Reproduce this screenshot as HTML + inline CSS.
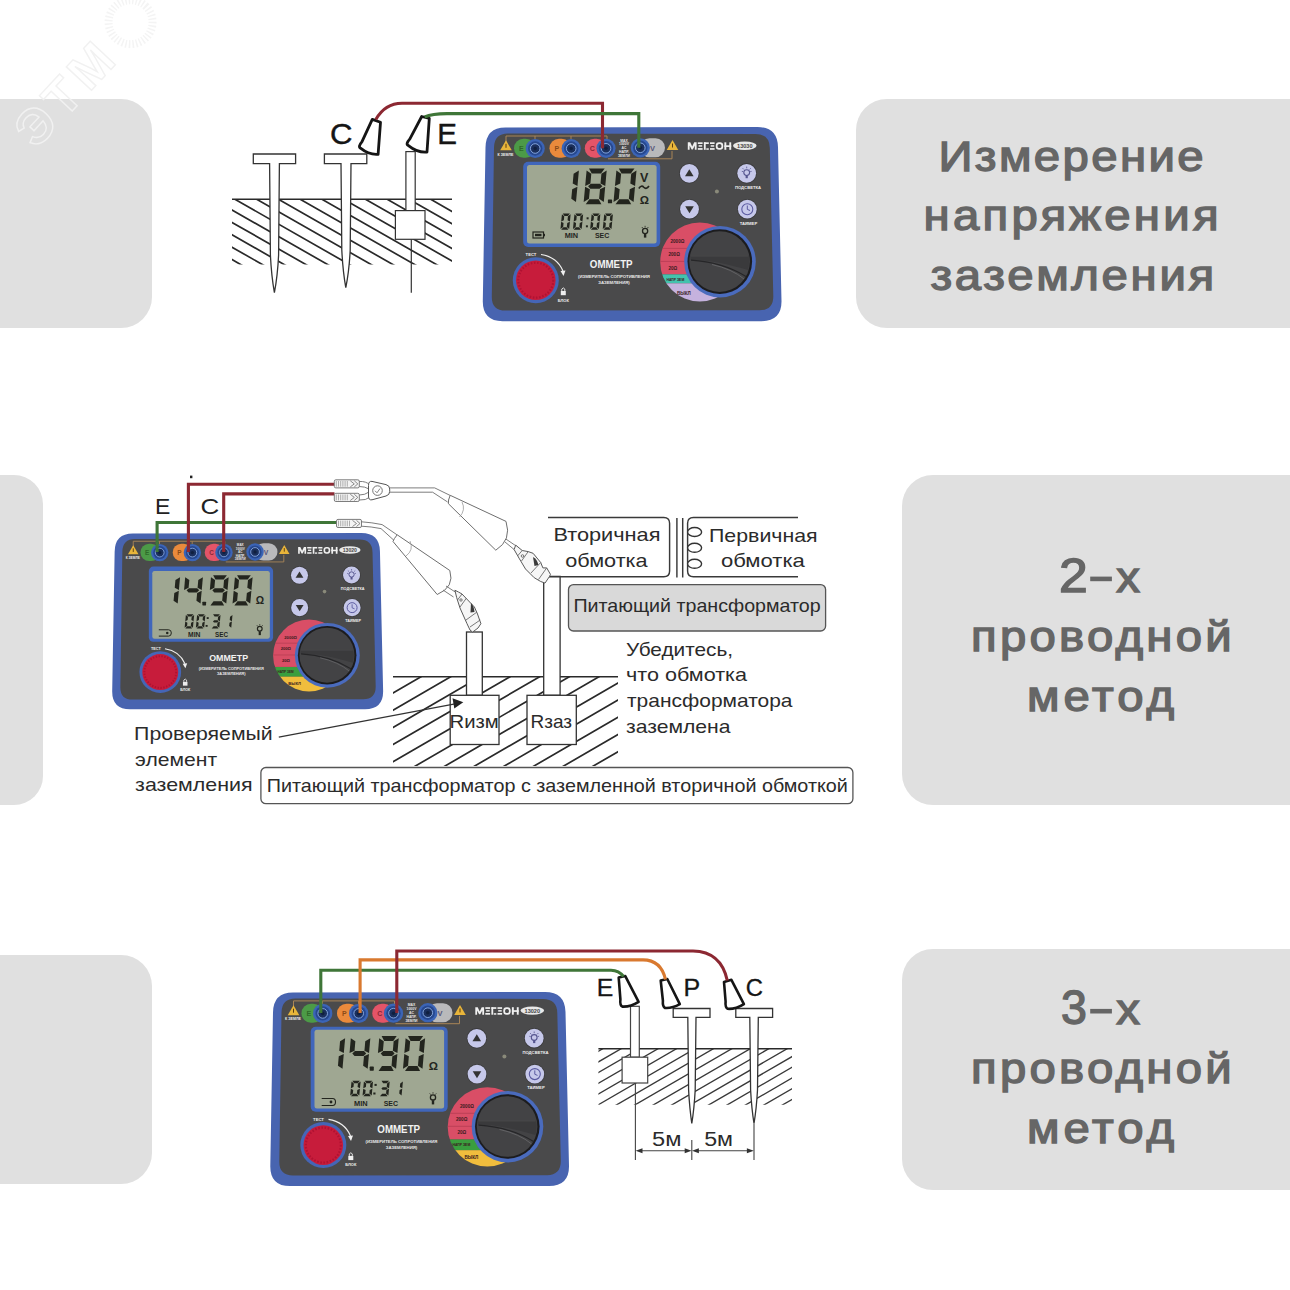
<!DOCTYPE html>
<html><head><meta charset="utf-8"><style>
html,body{margin:0;padding:0;background:#fff;width:1290px;height:1290px;overflow:hidden;}
svg{position:absolute;left:0;top:0;display:block;}
</style></head><body>
<svg width="1290" height="1290" viewBox="0 0 1290 1290">
<rect width="1290" height="1290" fill="#fff"/>

<rect x="-40.0" y="99.0" width="192.0" height="229.0" rx="31.0" fill="#e0e0e0"/>
<rect x="-40.0" y="475.0" width="83.0" height="330.0" rx="29.0" fill="#e0e0e0"/>
<rect x="-40.0" y="955.0" width="192.0" height="229.0" rx="31.0" fill="#e0e0e0"/>
<rect x="856.0" y="99.0" width="474.0" height="229.0" rx="31.0" fill="#e0e0e0"/>
<rect x="902.0" y="475.0" width="428.0" height="330.0" rx="31.0" fill="#e0e0e0"/>
<rect x="902.0" y="949.0" width="428.0" height="241.0" rx="31.0" fill="#e0e0e0"/>
<g transform="translate(36,150) rotate(-47)"><text x="0" y="0" font-size="50" fill="none" stroke="#f1f1f1" stroke-width="1.4" font-family="Liberation Sans" font-weight="bold" letter-spacing="6">ЭТМ</text><circle cx="158" cy="-18" r="22" fill="none" stroke="#f4f4f4" stroke-width="8" stroke-dasharray="1.5 2"/></g>
<clipPath id="h1"><rect x="232.0" y="199.3" width="220.0" height="65.1"/></clipPath>
<g clip-path="url(#h1)" stroke="#2a2a2a" stroke-width="1.70">
<path d="M230.0,47.66 L454.0,175.34 M230.0,60.06 L454.0,187.74 M230.0,72.46 L454.0,200.14 M230.0,84.86 L454.0,212.54 M230.0,97.26 L454.0,224.94 M230.0,109.66 L454.0,237.34 M230.0,122.06 L454.0,249.74 M230.0,134.46 L454.0,262.14 M230.0,146.86 L454.0,274.54 M230.0,159.26 L454.0,286.94 M230.0,171.66 L454.0,299.34 M230.0,184.06 L454.0,311.74 M230.0,196.46 L454.0,324.14 M230.0,208.86 L454.0,336.54 M230.0,221.26 L454.0,348.94 M230.0,233.66 L454.0,361.34 M230.0,246.06 L454.0,373.74 M230.0,258.46 L454.0,386.14 M230.0,270.86 L454.0,398.54 M230.0,283.26 L454.0,410.94 M230.0,295.66 L454.0,423.34"/>
</g>
<path d="M232,199.3 L452,199.3" stroke="#2a2a2a" stroke-width="1.6"/>
<path d="M253.3,154.0 L295.6,154.0 L295.6,163.7 L279.4,163.7 L278.6,255.0 Q277.6,275.7 274.4,292.7 Q271.4,275.7 270.4,255.0 L269.6,163.7 L253.3,163.7 Z" fill="#fff" stroke="#333" stroke-width="1.30" stroke-linejoin="miter"/>
<path d="M324.4,154.0 L366.8,154.0 L366.8,163.7 L351.0,163.7 L350.2,250.0 Q349.2,270.7 345.8,287.7 Q342.8,270.7 341.8,250.0 L341.0,163.7 L324.4,163.7 Z" fill="#fff" stroke="#333" stroke-width="1.30" stroke-linejoin="miter"/>
<rect x="405.9" y="151.6" width="9.3" height="59" fill="#fff" stroke="#333" stroke-width="1.2"/>
<rect x="395.4" y="210.6" width="29.6" height="28.7" fill="#fff" stroke="#333" stroke-width="1.2"/>
<path d="M411.3,239.3 L411.3,292.7" stroke="#333" stroke-width="1.2"/>
<path d="M372.3,119.4 L380.5,122.3 L378.1,154.3 Q369.1,155.1 360.5,148.2 Q357.8,146.9 362.0,141.6 L372.3,119.4 Z" fill="#fff" stroke="#151515" stroke-width="2.8" stroke-linejoin="round"/>
<path d="M421.7,116.5 L429.3,118.3 L427.0,152.0 Q417.3,152.8 408.1,145.3 Q405.4,144.0 409.9,138.8 L421.7,116.5 Z" fill="#fff" stroke="#151515" stroke-width="2.8" stroke-linejoin="round"/>
<clipPath id="h2"><rect x="393.0" y="676.7" width="225.0" height="89.3"/></clipPath>
<g clip-path="url(#h2)" stroke="#2a2a2a" stroke-width="1.70">
<path d="M391.0,642.56 L620.0,509.74 M391.0,659.76 L620.0,526.94 M391.0,676.96 L620.0,544.14 M391.0,694.16 L620.0,561.34 M391.0,711.36 L620.0,578.54 M391.0,728.56 L620.0,595.74 M391.0,745.76 L620.0,612.94 M391.0,762.96 L620.0,630.14 M391.0,780.16 L620.0,647.34 M391.0,797.36 L620.0,664.54 M391.0,814.56 L620.0,681.74 M391.0,831.76 L620.0,698.94 M391.0,848.96 L620.0,716.14 M391.0,866.16 L620.0,733.34 M391.0,883.36 L620.0,750.54 M391.0,900.56 L620.0,767.74 M391.0,917.76 L620.0,784.94 M391.0,934.96 L620.0,802.14"/>
</g>
<path d="M393,676.7 L618,676.7" stroke="#2a2a2a" stroke-width="1.6"/>
<rect x="466.5" y="632" width="15.8" height="63.3" fill="#fff" stroke="#333" stroke-width="1.3"/>
<rect x="450.2" y="695.3" width="48.8" height="49.2" fill="#fff" stroke="#333" stroke-width="1.3"/>
<rect x="543.7" y="576.4" width="16.4" height="118.9" fill="#fff" stroke="#333" stroke-width="1.3"/>
<rect x="527" y="695.3" width="49.3" height="49.2" fill="#fff" stroke="#333" stroke-width="1.3"/>
<path d="M548,517.4 L663.8,517.4 Q669.6,517.4 669.6,523.2 L669.6,571 Q669.6,576.8 663.8,576.8 L549,576.8" fill="none" stroke="#3a3a3a" stroke-width="1.45"/>
<path d="M676.9,518 L676.9,577.4 M682.7,518 L682.7,577.4" stroke="#3a3a3a" stroke-width="1.45"/>
<path d="M798,517.4 L693.4,517.4 Q687.6,517.4 687.6,523.2 L687.6,571 Q687.6,576.8 693.4,576.8 L798,576.8" fill="none" stroke="#3a3a3a" stroke-width="1.45"/>
<ellipse cx="694.6" cy="532.0" rx="7" ry="4.5" fill="#fff" stroke="#333" stroke-width="1.4"/>
<ellipse cx="694.6" cy="547.8" rx="7" ry="4.5" fill="#fff" stroke="#333" stroke-width="1.4"/>
<ellipse cx="694.6" cy="563.8" rx="7" ry="4.5" fill="#fff" stroke="#333" stroke-width="1.4"/>
<rect x="568.5" y="584.6" width="257.1" height="46.4" rx="5" fill="#d9d9d9" stroke="#555" stroke-width="1.3"/>
<path d="M278.8,737.2 L455,703.8" stroke="#333" stroke-width="1.3"/><polygon points="463.3,702.3 452.5,698.3 454.3,708.6" fill="#222"/>
<rect x="260.9" y="767.5" width="592" height="36.2" rx="5" fill="#fff" stroke="#555" stroke-width="1.3"/>
<clipPath id="h3"><rect x="598.4" y="1048.8" width="193.6" height="55.9"/></clipPath>
<g clip-path="url(#h3)" stroke="#3a3a3a" stroke-width="1.35">
<path d="M596.4,1020.26 L794.0,905.65 M596.4,1030.96 L794.0,916.35 M596.4,1041.66 L794.0,927.05 M596.4,1052.36 L794.0,937.75 M596.4,1063.06 L794.0,948.45 M596.4,1073.76 L794.0,959.15 M596.4,1084.46 L794.0,969.85 M596.4,1095.16 L794.0,980.55 M596.4,1105.86 L794.0,991.25 M596.4,1116.56 L794.0,1001.95 M596.4,1127.26 L794.0,1012.65 M596.4,1137.96 L794.0,1023.35 M596.4,1148.66 L794.0,1034.05 M596.4,1159.36 L794.0,1044.75 M596.4,1170.06 L794.0,1055.45 M596.4,1180.76 L794.0,1066.15 M596.4,1191.46 L794.0,1076.85 M596.4,1202.16 L794.0,1087.55 M596.4,1212.86 L794.0,1098.25 M596.4,1223.56 L794.0,1108.95 M596.4,1234.26 L794.0,1119.65 M596.4,1244.96 L794.0,1130.35"/>
</g>
<path d="M598.4,1048.8 L792,1048.8" stroke="#2a2a2a" stroke-width="1.6"/>
<rect x="630.5" y="1006.3" width="8.8" height="50.9" fill="#fff" stroke="#444" stroke-width="1.2"/>
<rect x="622.1" y="1057.2" width="25.6" height="25.8" fill="#fff" stroke="#444" stroke-width="1.2"/>
<path d="M635.4,1083 L635.4,1160" stroke="#444" stroke-width="1.1"/>
<path d="M673.2,1008.5 L710.0,1008.5 L710.0,1017.3 L696.0,1017.3 L695.2,1090.0 Q694.2,1108.4 691.8,1123.5 Q689.6,1108.4 688.6,1090.0 L687.8,1017.3 L673.2,1017.3 Z" fill="#fff" stroke="#333" stroke-width="1.30" stroke-linejoin="miter"/>
<path d="M735.8,1008.5 L772.6,1008.5 L772.6,1017.3 L758.3,1017.3 L757.5,1090.0 Q756.5,1108.4 754.0,1123.5 Q751.6,1108.4 750.6,1090.0 L749.8,1017.3 L735.8,1017.3 Z" fill="#fff" stroke="#333" stroke-width="1.30" stroke-linejoin="miter"/>
<path d="M691.8,1140 L691.8,1160 M754,1123.5 L754,1160" stroke="#444" stroke-width="1.1"/>
<path d="M639,1150.8 L688,1150.8 M695.5,1150.8 L750.5,1150.8" stroke="#444" stroke-width="1.1"/>
<polygon points="635.6,1150.8 642.5,1148.3 642.5,1153.3" fill="#333"/><polygon points="691.6,1150.8 684.7,1148.3 684.7,1153.3" fill="#333"/>
<polygon points="692,1150.8 698.9,1148.3 698.9,1153.3" fill="#333"/><polygon points="753.8,1150.8 746.9,1148.3 746.9,1153.3" fill="#333"/>
<path d="M618.7,977.6 L625.3,976.1 L638.6,1001.9 Q630.2,1007.1 622.4,1006.6 Q619.7,1005.3 620.4,999.3 L618.7,977.6 Z" fill="#fff" stroke="#151515" stroke-width="2.6" stroke-linejoin="round"/>
<path d="M660.7,980.5 L667.3,979.0 L679.8,1004.1 Q672.2,1008.5 665.1,1008.0 Q662.4,1006.7 662.9,1000.7 L660.7,980.5 Z" fill="#fff" stroke="#151515" stroke-width="2.6" stroke-linejoin="round"/>
<path d="M724.0,982.0 L731.4,979.8 L743.9,1004.1 Q735.5,1009.3 727.7,1008.8 Q725.0,1007.5 725.6,1001.5 L724.0,982.0 Z" fill="#fff" stroke="#151515" stroke-width="2.6" stroke-linejoin="round"/>
<g id="dev1"><path d="M505.5,127.5 L757.5,127 Q777.5,127 778,147 L781.5,301 Q781.8,321 761.5,321.2 L502.5,321.2 Q482.5,321.2 482.8,301 L485.5,147.5 Q485.8,127.5 505.5,127.5 Z" fill="#4864b0"/>
<path d="M508,133.5 L755.5,134 Q769.5,134 769.8,148 L773.3,296 Q773.5,310 759.5,310.3 L505.5,310.6 Q491.5,310.6 491.8,296.6 L494,147.5 Q494.2,133.5 508,133.5 Z" fill="#4a4a4b"/>
<path d="M506,143 L506,136 L607,136 L607,140 M535,136 L535,139 M571,136 L571,139 M608,158.8 L672,158.8 L672,151" fill="none" stroke="#a88457" stroke-width="1"/>
<polygon points="506.0,140.3 511.8,150.3 500.2,150.3" fill="#e9b53a"/>
<rect x="505.5" y="143.8" width="1" height="4" fill="#5a3d10"/>
<polygon points="672.5,140.0 678.3,150.0 666.7,150.0" fill="#e9b53a"/>
<rect x="672.0" y="143.5" width="1" height="4" fill="#5a3d10"/>
<text x="505.5" y="155.5" font-size="3.6" fill="#eee" text-anchor="middle" font-family="Liberation Sans" font-weight="bold">К ЗЕМЛЕ</text>
<rect x="514.0" y="138.8" width="21.2" height="19" rx="9.5" fill="#4c9a47"/>
<text x="519.0" y="151" font-size="7" fill="#2f6a2a" font-family="Liberation Sans" font-weight="bold">E</text>
<rect x="549.5" y="138.8" width="21.7" height="19" rx="9.5" fill="#ea8a3c"/>
<text x="554.5" y="151" font-size="7" fill="#8a4a18" font-family="Liberation Sans" font-weight="bold">P</text>
<rect x="584.8" y="138.8" width="21.2" height="19" rx="9.5" fill="#e45468"/>
<text x="589.8" y="151" font-size="7" fill="#8a2838" font-family="Liberation Sans" font-weight="bold">C</text>
<rect x="640" y="138.3" width="25" height="19" rx="9.5" fill="#b9b9bb"/>
<text x="650" y="151" font-size="7.5" fill="#55557a" font-family="Liberation Sans" font-weight="bold">V</text>
<circle cx="535.2" cy="148.5" r="9.6" fill="#3b64b6"/>
<circle cx="535.2" cy="148.5" r="7.2" fill="#27488f"/>
<circle cx="535.2" cy="148.5" r="4.8" fill="#1b2f5c" stroke="#8fb0e8" stroke-width="0.9"/>
<circle cx="535.2" cy="148.5" r="1.8" fill="#102040"/>
<circle cx="571.2" cy="148.5" r="9.6" fill="#3b64b6"/>
<circle cx="571.2" cy="148.5" r="7.2" fill="#27488f"/>
<circle cx="571.2" cy="148.5" r="4.8" fill="#1b2f5c" stroke="#8fb0e8" stroke-width="0.9"/>
<circle cx="571.2" cy="148.5" r="1.8" fill="#102040"/>
<circle cx="606.0" cy="148.3" r="9.6" fill="#3b64b6"/>
<circle cx="606.0" cy="148.3" r="7.2" fill="#27488f"/>
<circle cx="606.0" cy="148.3" r="4.8" fill="#1b2f5c" stroke="#8fb0e8" stroke-width="0.9"/>
<circle cx="606.0" cy="148.3" r="1.8" fill="#102040"/>
<circle cx="640.3" cy="147.8" r="9.6" fill="#3b64b6"/>
<circle cx="640.3" cy="147.8" r="7.2" fill="#27488f"/>
<circle cx="640.3" cy="147.8" r="4.8" fill="#1b2f5c" stroke="#8fb0e8" stroke-width="0.9"/>
<circle cx="640.3" cy="147.8" r="1.8" fill="#102040"/>
<text x="624" y="141.5" font-size="3.4" fill="#e8e8e8" text-anchor="middle" font-family="Liberation Sans" font-weight="bold">MAX</text>
<text x="624" y="145.3" font-size="3.4" fill="#e8e8e8" text-anchor="middle" font-family="Liberation Sans" font-weight="bold">1000V</text>
<text x="624" y="149.1" font-size="3.4" fill="#e8e8e8" text-anchor="middle" font-family="Liberation Sans" font-weight="bold">AC</text>
<text x="624" y="152.9" font-size="3.4" fill="#e8e8e8" text-anchor="middle" font-family="Liberation Sans" font-weight="bold">НАПР.</text>
<text x="624" y="156.7" font-size="3.4" fill="#e8e8e8" text-anchor="middle" font-family="Liberation Sans" font-weight="bold">ЗЕМЛИ</text>
<g fill="#f0f0f0"><polygon points="687.8,149.8 687.8,142.3 690.2,142.3 692.2,146.6 694.2,142.3 696.6,142.3 696.6,149.8 694.8,149.8 694.8,145.6 692.8,149.4 691.6,149.4 689.6,145.6 689.6,149.8"/><rect x="697.8" y="142.3" width="4.8" height="1.7"/><rect x="698.6" y="145.2" width="3.6" height="1.5"/><rect x="697.8" y="148.1" width="4.8" height="1.7"/><rect x="703.9" y="142.3" width="4.9" height="1.7"/><rect x="703.9" y="142.3" width="1.8" height="7.5"/><rect x="706.3" y="148.3" width="2.5" height="1.5"/><rect x="710" y="142.3" width="4.6" height="1.7"/><rect x="710.7" y="145.2" width="3.5" height="1.5"/><rect x="710" y="148.1" width="4.6" height="1.7"/><rect x="715.8" y="142.3" width="7.4" height="7.5" rx="3.2"/><rect x="724.4" y="142.3" width="1.9" height="7.5"/><rect x="729.3" y="142.3" width="1.9" height="7.5"/><rect x="724.4" y="145.3" width="6.8" height="1.7"/></g>
<rect x="717.6" y="144" width="3.8" height="4.1" rx="1.6" fill="#4a4a4b"/>
<ellipse cx="744.8" cy="145.7" rx="11.8" ry="4.2" fill="#e8e8e8"/>
<text x="744.8" y="147.9" font-size="5.6" fill="#444" text-anchor="middle" font-family="Liberation Sans" font-weight="bold">13030</text>
<rect x="523.2" y="161.8" width="137" height="85.1" rx="5" fill="#4066bb"/>
<rect x="527" y="164.9" width="129.6" height="78.6" rx="2.5" fill="#9fa792"/>
<g fill="#23251e"><polygon points="578.89,170.60 577.48,185.90 572.71,183.40 573.60,173.80"/><polygon points="577.41,186.70 576.00,202.00 571.30,198.80 572.18,189.20"/></g>
<g fill="#23251e"><polygon points="588.99,168.40 604.69,168.40 601.03,173.40 591.73,173.40"/><polygon points="606.69,170.60 605.28,185.90 600.51,183.40 601.40,173.80"/><polygon points="605.21,186.70 603.80,202.00 599.10,198.80 599.98,189.20"/><polygon points="589.36,199.20 598.66,199.20 601.40,204.20 585.70,204.20"/><polygon points="585.11,186.70 589.88,189.20 589.00,198.80 583.70,202.00"/><polygon points="586.59,170.60 591.30,173.80 590.41,183.40 585.18,185.90"/><polygon points="588.05,186.30 590.78,183.80 600.08,183.80 602.35,186.30 599.62,188.80 590.32,188.80"/></g>
<g fill="#23251e"><polygon points="618.79,168.40 634.49,168.40 630.83,173.40 621.53,173.40"/><polygon points="636.49,170.60 635.08,185.90 630.31,183.40 631.20,173.80"/><polygon points="635.01,186.70 633.60,202.00 628.90,198.80 629.78,189.20"/><polygon points="619.16,199.20 628.46,199.20 631.20,204.20 615.50,204.20"/><polygon points="614.91,186.70 619.68,189.20 618.80,198.80 613.50,202.00"/><polygon points="616.39,170.60 621.10,173.80 620.21,183.40 614.98,185.90"/></g>
<rect x="607.9" y="199.5" width="4.2" height="3.8" rx="0.6" fill="#23251e"/>
<text x="640" y="182.3" font-size="12.5" fill="#23251e" font-family="Liberation Sans" font-weight="bold">V</text>
<path d="M638.8,188.5 Q641.5,184.5 643.8,187.3 Q646.3,190 649,186" fill="none" stroke="#23251e" stroke-width="1.6"/>
<text x="639.8" y="203.8" font-size="11.5" fill="#23251e" font-family="Liberation Sans" font-weight="bold">Ω</text>
<g fill="#23251e"><polygon points="562.80,213.50 569.90,213.50 567.75,216.00 564.45,216.00"/><polygon points="570.62,214.30 569.92,221.45 567.54,220.20 567.93,216.20"/><polygon points="569.88,221.85 569.18,229.00 566.86,227.10 567.26,223.10"/><polygon points="563.35,227.30 566.64,227.30 568.30,229.80 561.20,229.80"/><polygon points="561.18,221.85 563.56,223.10 563.16,227.10 560.48,229.00"/><polygon points="561.92,214.30 564.23,216.20 563.84,220.20 561.22,221.45"/></g>
<g fill="#23251e"><polygon points="575.30,213.50 582.40,213.50 580.25,216.00 576.95,216.00"/><polygon points="583.12,214.30 582.42,221.45 580.04,220.20 580.43,216.20"/><polygon points="582.38,221.85 581.68,229.00 579.36,227.10 579.76,223.10"/><polygon points="575.85,227.30 579.14,227.30 580.80,229.80 573.70,229.80"/><polygon points="573.68,221.85 576.06,223.10 575.66,227.10 572.98,229.00"/><polygon points="574.42,214.30 576.73,216.20 576.34,220.20 573.72,221.45"/></g>
<g fill="#23251e"><polygon points="592.50,213.50 599.60,213.50 597.45,216.00 594.15,216.00"/><polygon points="600.32,214.30 599.62,221.45 597.24,220.20 597.63,216.20"/><polygon points="599.58,221.85 598.88,229.00 596.56,227.10 596.96,223.10"/><polygon points="593.05,227.30 596.35,227.30 598.00,229.80 590.90,229.80"/><polygon points="590.88,221.85 593.26,223.10 592.86,227.10 590.18,229.00"/><polygon points="591.62,214.30 593.93,216.20 593.54,220.20 590.92,221.45"/></g>
<g fill="#23251e"><polygon points="605.10,213.50 612.20,213.50 610.05,216.00 606.75,216.00"/><polygon points="612.92,214.30 612.22,221.45 609.84,220.20 610.23,216.20"/><polygon points="612.18,221.85 611.48,229.00 609.16,227.10 609.56,223.10"/><polygon points="605.65,227.30 608.95,227.30 610.60,229.80 603.50,229.80"/><polygon points="603.48,221.85 605.86,223.10 605.46,227.10 602.78,229.00"/><polygon points="604.22,214.30 606.53,216.20 606.14,220.20 603.52,221.45"/></g>
<rect x="586.6" y="217.3" width="2" height="2" fill="#23251e"/><rect x="585.9" y="225.3" width="2" height="2" fill="#23251e"/>
<text x="564.7" y="238.2" font-size="7.4" fill="#23251e" font-family="Liberation Sans" font-weight="bold" textLength="13.4" lengthAdjust="spacingAndGlyphs">MIN</text>
<text x="594.9" y="238.2" font-size="7.4" fill="#23251e" font-family="Liberation Sans" font-weight="bold" textLength="14.4" lengthAdjust="spacingAndGlyphs">SEC</text>
<rect x="533" y="232" width="10.5" height="6" fill="none" stroke="#23251e" stroke-width="1.2"/><rect x="543.5" y="233.8" width="1.5" height="2.5" fill="#23251e"/><rect x="535" y="233.8" width="6.5" height="2.4" fill="#23251e"/>
<circle cx="645.1" cy="231" r="2.6" fill="none" stroke="#23251e" stroke-width="1.3"/><rect x="643.9" y="233.8" width="2.4" height="3.8" fill="#23251e"/><path d="M641.8,227 L643,228.3 M648.4,227 L647.2,228.3 M645.1,225.8 L645.1,227.3" stroke="#23251e" stroke-width="0.8"/>
<circle cx="689.3" cy="173.4" r="10.2" fill="#3a3a3c"/>
<circle cx="689.3" cy="173.4" r="9.4" fill="#c6c8ea"/>
<circle cx="689.5" cy="209.2" r="10.2" fill="#3a3a3c"/>
<circle cx="689.5" cy="209.2" r="9.4" fill="#c6c8ea"/>
<circle cx="746.7" cy="173.3" r="10.2" fill="#3a3a3c"/>
<circle cx="746.7" cy="173.3" r="9.4" fill="#c6c8ea"/>
<circle cx="747.3" cy="209.2" r="10.2" fill="#3a3a3c"/>
<circle cx="747.3" cy="209.2" r="9.4" fill="#c6c8ea"/>
<polygon points="689.3,169.3 693.6,176.3 685,176.3" fill="#333"/>
<polygon points="689.5,213.3 693.8,206.3 685.2,206.3" fill="#333"/>
<circle cx="746.7" cy="172.6" r="2.9" fill="none" stroke="#55558f" stroke-width="1.1"/><rect x="745.6" y="175.4" width="2.2" height="2.8" fill="#55558f"/><path d="M742.6,168.2 L743.8,169.4 M750.8,168.2 L749.6,169.4 M746.7,166.6 L746.7,168.3 M741.8,171.4 L743.2,171.6 M751.6,171.4 L750.2,171.6" stroke="#55558f" stroke-width="0.8"/>
<circle cx="747.3" cy="209.2" r="5.5" fill="none" stroke="#5a5aa0" stroke-width="1.1"/><path d="M747.3,205.5 L747.3,209.4 L750,210.5" fill="none" stroke="#5a5aa0" stroke-width="1"/>
<text x="748" y="189.3" font-size="4.2" fill="#eee" text-anchor="middle" font-family="Liberation Sans" font-weight="bold">ПОДСВЕТКА</text>
<text x="748.5" y="224.6" font-size="4.2" fill="#eee" text-anchor="middle" font-family="Liberation Sans" font-weight="bold">ТАЙМЕР</text>
<circle cx="716.9" cy="191.5" r="2" fill="#8a8a7a"/>
<circle cx="535.8" cy="280.2" r="23" fill="#4565b6"/>
<circle cx="535.8" cy="280.2" r="19.8" fill="#c71c3b"/>
<circle cx="535.8" cy="280.2" r="17.5" fill="none" stroke="#b01232" stroke-width="2.2" stroke-dasharray="1.6 1.6"/>
<text x="531" y="256" font-size="4.2" fill="#eee" text-anchor="middle" font-family="Liberation Sans" font-weight="bold">ТЕСТ</text>
<path d="M541,254.5 Q557,257 563,271" fill="none" stroke="#f0f0f0" stroke-width="1.2"/><polygon points="560.5,271 565.5,270.5 563.5,276" fill="#f0f0f0"/>
<rect x="560.8" y="291" width="5" height="4.2" fill="#eee"/><path d="M561.8,291 L561.8,289 Q563.3,286.8 564.8,289 L564.8,291" fill="none" stroke="#eee" stroke-width="0.9"/>
<text x="563.3" y="301.5" font-size="4" fill="#eee" text-anchor="middle" font-family="Liberation Sans" font-weight="bold">БЛОК</text>
<text x="611.2" y="267.8" font-size="10.3" fill="#f2f2f2" text-anchor="middle" font-family="Liberation Sans" font-weight="bold" textLength="42.8" lengthAdjust="spacingAndGlyphs">ОММЕТР</text>
<text x="614" y="278" font-size="4.3" fill="#e8e8e8" text-anchor="middle" font-family="Liberation Sans" font-weight="bold">(ИЗМЕРИТЕЛЬ СОПРОТИВЛЕНИЯ</text>
<text x="614" y="283.7" font-size="4.3" fill="#e8e8e8" text-anchor="middle" font-family="Liberation Sans" font-weight="bold">ЗАЗЕМЛЕНИЯ)</text>
<clipPath id="sel1"><circle cx="699.8" cy="262" r="39.6"/></clipPath>
<g clip-path="url(#sel1)">
<rect x="655" y="220" width="90" height="54.4" fill="#d94e66"/>
<rect x="655" y="274.4" width="90" height="8.9" fill="#43c2ad"/>
<rect x="655" y="283.3" width="90" height="26.7" fill="#c5b2de"/>
<path d="M655,248.4 L745,248.4 M655,261.4 L745,261.4" stroke="#b03a50" stroke-width="0.7"/>
</g>
<text x="670.5" y="243.0" font-size="4.6" fill="#3a1a20" font-family="Liberation Sans" font-weight="bold">2000Ω</text>
<text x="668.5" y="256.2" font-size="4.6" fill="#3a1a20" font-family="Liberation Sans" font-weight="bold">200Ω</text>
<text x="668.5" y="269.5" font-size="4.6" fill="#3a1a20" font-family="Liberation Sans" font-weight="bold">20Ω</text>
<text x="666.5" y="281.0" font-size="3.4" fill="#3a1a20" font-family="Liberation Sans" font-weight="bold">НАПР ЗЕМ</text>
<text x="677.0" y="294.5" font-size="4.6" fill="#3a1a20" font-family="Liberation Sans" font-weight="bold">ВЫКЛ</text>
<circle cx="720" cy="261.8" r="35.8" fill="#4a6bbd"/>
<circle cx="719.8" cy="261.6" r="32.3" fill="#1c1c1e"/>
<circle cx="719.6" cy="261.6" r="30.3" fill="#434345"/>
<path d="M690.5,255.5 L748.5,255.5 Q750,262 748,270 Q735,266 718,262.5 Q703,259.5 690.5,260 Z" fill="#3a3a3c"/>
<path d="M691,256 L748,256" fill="none" stroke="#505052" stroke-width="0.7"/>
<path d="M691,260.2 Q722,262 746,276.5" fill="none" stroke="#262628" stroke-width="1.2"/>
<path d="M712,264.5 Q732,269 744,279" fill="none" stroke="#6a6a6c" stroke-width="0.8"/></g>
<g transform="translate(-325.7,417.9) scale(0.907)"><path d="M505.5,127.5 L757.5,127 Q777.5,127 778,147 L781.5,301 Q781.8,321 761.5,321.2 L502.5,321.2 Q482.5,321.2 482.8,301 L485.5,147.5 Q485.8,127.5 505.5,127.5 Z" fill="#4864b0"/>
<path d="M508,133.5 L755.5,134 Q769.5,134 769.8,148 L773.3,296 Q773.5,310 759.5,310.3 L505.5,310.6 Q491.5,310.6 491.8,296.6 L494,147.5 Q494.2,133.5 508,133.5 Z" fill="#4a4a4b"/>
<path d="M506,143 L506,136 L607,136 L607,140 M535,136 L535,139 M571,136 L571,139 M608,158.8 L672,158.8 L672,151" fill="none" stroke="#a88457" stroke-width="1"/>
<polygon points="506.0,140.3 511.8,150.3 500.2,150.3" fill="#e9b53a"/>
<rect x="505.5" y="143.8" width="1" height="4" fill="#5a3d10"/>
<polygon points="672.5,140.0 678.3,150.0 666.7,150.0" fill="#e9b53a"/>
<rect x="672.0" y="143.5" width="1" height="4" fill="#5a3d10"/>
<text x="505.5" y="155.5" font-size="3.6" fill="#eee" text-anchor="middle" font-family="Liberation Sans" font-weight="bold">К ЗЕМЛЕ</text>
<rect x="514.0" y="138.8" width="21.2" height="19" rx="9.5" fill="#4c9a47"/>
<text x="519.0" y="151" font-size="7" fill="#2f6a2a" font-family="Liberation Sans" font-weight="bold">E</text>
<rect x="549.5" y="138.8" width="21.7" height="19" rx="9.5" fill="#ea8a3c"/>
<text x="554.5" y="151" font-size="7" fill="#8a4a18" font-family="Liberation Sans" font-weight="bold">P</text>
<rect x="584.8" y="138.8" width="21.2" height="19" rx="9.5" fill="#e45468"/>
<text x="589.8" y="151" font-size="7" fill="#8a2838" font-family="Liberation Sans" font-weight="bold">C</text>
<rect x="640" y="138.3" width="25" height="19" rx="9.5" fill="#b9b9bb"/>
<text x="650" y="151" font-size="7.5" fill="#55557a" font-family="Liberation Sans" font-weight="bold">V</text>
<circle cx="535.2" cy="148.5" r="9.6" fill="#3b64b6"/>
<circle cx="535.2" cy="148.5" r="7.2" fill="#27488f"/>
<circle cx="535.2" cy="148.5" r="4.8" fill="#1b2f5c" stroke="#8fb0e8" stroke-width="0.9"/>
<circle cx="535.2" cy="148.5" r="1.8" fill="#102040"/>
<circle cx="571.2" cy="148.5" r="9.6" fill="#3b64b6"/>
<circle cx="571.2" cy="148.5" r="7.2" fill="#27488f"/>
<circle cx="571.2" cy="148.5" r="4.8" fill="#1b2f5c" stroke="#8fb0e8" stroke-width="0.9"/>
<circle cx="571.2" cy="148.5" r="1.8" fill="#102040"/>
<circle cx="606.0" cy="148.3" r="9.6" fill="#3b64b6"/>
<circle cx="606.0" cy="148.3" r="7.2" fill="#27488f"/>
<circle cx="606.0" cy="148.3" r="4.8" fill="#1b2f5c" stroke="#8fb0e8" stroke-width="0.9"/>
<circle cx="606.0" cy="148.3" r="1.8" fill="#102040"/>
<circle cx="640.3" cy="147.8" r="9.6" fill="#3b64b6"/>
<circle cx="640.3" cy="147.8" r="7.2" fill="#27488f"/>
<circle cx="640.3" cy="147.8" r="4.8" fill="#1b2f5c" stroke="#8fb0e8" stroke-width="0.9"/>
<circle cx="640.3" cy="147.8" r="1.8" fill="#102040"/>
<text x="624" y="141.5" font-size="3.4" fill="#e8e8e8" text-anchor="middle" font-family="Liberation Sans" font-weight="bold">MAX</text>
<text x="624" y="145.3" font-size="3.4" fill="#e8e8e8" text-anchor="middle" font-family="Liberation Sans" font-weight="bold">1000V</text>
<text x="624" y="149.1" font-size="3.4" fill="#e8e8e8" text-anchor="middle" font-family="Liberation Sans" font-weight="bold">AC</text>
<text x="624" y="152.9" font-size="3.4" fill="#e8e8e8" text-anchor="middle" font-family="Liberation Sans" font-weight="bold">НАПР.</text>
<text x="624" y="156.7" font-size="3.4" fill="#e8e8e8" text-anchor="middle" font-family="Liberation Sans" font-weight="bold">ЗЕМЛИ</text>
<g fill="#f0f0f0"><polygon points="687.8,149.8 687.8,142.3 690.2,142.3 692.2,146.6 694.2,142.3 696.6,142.3 696.6,149.8 694.8,149.8 694.8,145.6 692.8,149.4 691.6,149.4 689.6,145.6 689.6,149.8"/><rect x="697.8" y="142.3" width="4.8" height="1.7"/><rect x="698.6" y="145.2" width="3.6" height="1.5"/><rect x="697.8" y="148.1" width="4.8" height="1.7"/><rect x="703.9" y="142.3" width="4.9" height="1.7"/><rect x="703.9" y="142.3" width="1.8" height="7.5"/><rect x="706.3" y="148.3" width="2.5" height="1.5"/><rect x="710" y="142.3" width="4.6" height="1.7"/><rect x="710.7" y="145.2" width="3.5" height="1.5"/><rect x="710" y="148.1" width="4.6" height="1.7"/><rect x="715.8" y="142.3" width="7.4" height="7.5" rx="3.2"/><rect x="724.4" y="142.3" width="1.9" height="7.5"/><rect x="729.3" y="142.3" width="1.9" height="7.5"/><rect x="724.4" y="145.3" width="6.8" height="1.7"/></g>
<rect x="717.6" y="144" width="3.8" height="4.1" rx="1.6" fill="#4a4a4b"/>
<ellipse cx="744.8" cy="145.7" rx="11.8" ry="4.2" fill="#e8e8e8"/>
<text x="744.8" y="147.9" font-size="5.6" fill="#444" text-anchor="middle" font-family="Liberation Sans" font-weight="bold">13020</text>
<rect x="523.2" y="163.9" width="137" height="83.0" rx="5" fill="#4066bb"/>
<rect x="527" y="168.7" width="129.6" height="74.8" rx="2.5" fill="#9fa792"/>
<g fill="#23251e"><polygon points="557.60,175.60 556.34,189.75 551.75,187.35 552.53,178.60"/><polygon points="556.26,190.55 555.00,204.70 550.47,201.70 551.25,192.95"/></g>
<g fill="#23251e"><polygon points="582.80,175.60 581.54,189.75 576.95,187.35 577.73,178.60"/><polygon points="581.46,190.55 580.20,204.70 575.67,201.70 576.45,192.95"/><polygon points="563.30,175.60 567.83,178.60 567.05,187.35 562.04,189.75"/><polygon points="564.80,190.15 567.41,187.75 576.51,187.75 578.70,190.15 576.09,192.55 566.99,192.55"/></g>
<g fill="#23251e"><polygon points="594.10,173.40 609.20,173.40 605.77,178.20 596.67,178.20"/><polygon points="611.20,175.60 609.94,189.75 605.35,187.35 606.13,178.60"/><polygon points="609.86,190.55 608.60,204.70 604.07,201.70 604.85,192.95"/><polygon points="594.53,202.10 603.63,202.10 606.20,206.90 591.10,206.90"/><polygon points="591.70,175.60 596.23,178.60 595.45,187.35 590.44,189.75"/><polygon points="593.20,190.15 595.81,187.75 604.91,187.75 607.10,190.15 604.49,192.55 595.39,192.55"/></g>
<g fill="#23251e"><polygon points="620.50,173.40 635.60,173.40 632.17,178.20 623.07,178.20"/><polygon points="637.60,175.60 636.34,189.75 631.75,187.35 632.53,178.60"/><polygon points="636.26,190.55 635.00,204.70 630.47,201.70 631.25,192.95"/><polygon points="620.93,202.10 630.03,202.10 632.60,206.90 617.50,206.90"/><polygon points="616.76,190.55 621.35,192.95 620.57,201.70 615.50,204.70"/><polygon points="618.10,175.60 622.63,178.60 621.85,187.35 616.84,189.75"/></g>
<rect x="582.2" y="202.6" width="4.1" height="4.1" rx="0.6" fill="#23251e"/>
<text x="641.2" y="205.3" font-size="11.5" fill="#23251e" font-family="Liberation Sans" font-weight="bold">Ω</text>
<g fill="#23251e"><polygon points="564.90,216.60 572.40,216.60 570.26,219.10 566.56,219.10"/><polygon points="573.13,217.40 572.47,224.15 570.09,222.90 570.44,219.30"/><polygon points="572.43,224.55 571.78,231.30 569.46,229.40 569.81,225.80"/><polygon points="565.54,229.60 569.24,229.60 570.90,232.10 563.40,232.10"/><polygon points="563.33,224.55 565.71,225.80 565.36,229.40 562.68,231.30"/><polygon points="564.03,217.40 566.34,219.30 565.99,222.90 563.37,224.15"/></g>
<g fill="#23251e"><polygon points="577.30,216.60 584.80,216.60 582.66,219.10 578.96,219.10"/><polygon points="585.53,217.40 584.87,224.15 582.49,222.90 582.84,219.30"/><polygon points="584.83,224.55 584.18,231.30 581.86,229.40 582.21,225.80"/><polygon points="577.94,229.60 581.64,229.60 583.30,232.10 575.80,232.10"/><polygon points="575.73,224.55 578.11,225.80 577.76,229.40 575.08,231.30"/><polygon points="576.43,217.40 578.74,219.30 578.39,222.90 575.77,224.15"/></g>
<g fill="#23251e"><polygon points="594.00,216.60 601.50,216.60 599.36,219.10 595.66,219.10"/><polygon points="602.23,217.40 601.57,224.15 599.19,222.90 599.54,219.30"/><polygon points="601.53,224.55 600.88,231.30 598.56,229.40 598.91,225.80"/><polygon points="594.64,229.60 598.34,229.60 600.00,232.10 592.50,232.10"/><polygon points="593.90,224.35 595.27,223.10 598.97,223.10 600.10,224.35 598.73,225.60 595.03,225.60"/></g>
<g fill="#23251e"><polygon points="615.43,217.40 614.77,224.15 612.39,222.90 612.74,219.30"/><polygon points="614.73,224.55 614.08,231.30 611.76,229.40 612.11,225.80"/></g>
<rect x="587" y="219.7" width="2.2" height="2" fill="#23251e"/><rect x="585.8" y="228.3" width="2.2" height="2" fill="#23251e"/>
<text x="566.5" y="241.2" font-size="7.2" fill="#23251e" font-family="Liberation Sans" font-weight="bold" textLength="13.6" lengthAdjust="spacingAndGlyphs">MIN</text>
<text x="596.2" y="241.2" font-size="7.2" fill="#23251e" font-family="Liberation Sans" font-weight="bold" textLength="14.3" lengthAdjust="spacingAndGlyphs">SEC</text>
<path d="M534.2,233.6 L545,233.6 Q548,233.6 548,237.1 Q548,240.6 545,240.6 L534.2,240.6" fill="none" stroke="#23251e" stroke-width="1.1"/><circle cx="543.5" cy="237.1" r="1.4" fill="#23251e"/>
<circle cx="645.5" cy="232.5" r="2.6" fill="none" stroke="#23251e" stroke-width="1.3"/><rect x="644.3" y="235.3" width="2.4" height="4.2" fill="#23251e"/><path d="M642.2,228.5 L643.4,229.8 M648.8,228.5 L647.6,229.8 M645.5,227.3 L645.5,228.8" stroke="#23251e" stroke-width="0.8"/>
<circle cx="689.3" cy="173.4" r="10.2" fill="#3a3a3c"/>
<circle cx="689.3" cy="173.4" r="9.4" fill="#c6c8ea"/>
<circle cx="689.5" cy="209.2" r="10.2" fill="#3a3a3c"/>
<circle cx="689.5" cy="209.2" r="9.4" fill="#c6c8ea"/>
<circle cx="746.7" cy="173.3" r="10.2" fill="#3a3a3c"/>
<circle cx="746.7" cy="173.3" r="9.4" fill="#c6c8ea"/>
<circle cx="747.3" cy="209.2" r="10.2" fill="#3a3a3c"/>
<circle cx="747.3" cy="209.2" r="9.4" fill="#c6c8ea"/>
<polygon points="689.3,169.3 693.6,176.3 685,176.3" fill="#333"/>
<polygon points="689.5,213.3 693.8,206.3 685.2,206.3" fill="#333"/>
<circle cx="746.7" cy="172.6" r="2.9" fill="none" stroke="#55558f" stroke-width="1.1"/><rect x="745.6" y="175.4" width="2.2" height="2.8" fill="#55558f"/><path d="M742.6,168.2 L743.8,169.4 M750.8,168.2 L749.6,169.4 M746.7,166.6 L746.7,168.3 M741.8,171.4 L743.2,171.6 M751.6,171.4 L750.2,171.6" stroke="#55558f" stroke-width="0.8"/>
<circle cx="747.3" cy="209.2" r="5.5" fill="none" stroke="#5a5aa0" stroke-width="1.1"/><path d="M747.3,205.5 L747.3,209.4 L750,210.5" fill="none" stroke="#5a5aa0" stroke-width="1"/>
<text x="748" y="189.3" font-size="4.2" fill="#eee" text-anchor="middle" font-family="Liberation Sans" font-weight="bold">ПОДСВЕТКА</text>
<text x="748.5" y="224.6" font-size="4.2" fill="#eee" text-anchor="middle" font-family="Liberation Sans" font-weight="bold">ТАЙМЕР</text>
<circle cx="716.9" cy="191.5" r="2" fill="#8a8a7a"/>
<circle cx="535.8" cy="280.2" r="23" fill="#4565b6"/>
<circle cx="535.8" cy="280.2" r="19.8" fill="#c71c3b"/>
<circle cx="535.8" cy="280.2" r="17.5" fill="none" stroke="#b01232" stroke-width="2.2" stroke-dasharray="1.6 1.6"/>
<text x="531" y="256" font-size="4.2" fill="#eee" text-anchor="middle" font-family="Liberation Sans" font-weight="bold">ТЕСТ</text>
<path d="M541,254.5 Q557,257 563,271" fill="none" stroke="#f0f0f0" stroke-width="1.2"/><polygon points="560.5,271 565.5,270.5 563.5,276" fill="#f0f0f0"/>
<rect x="560.8" y="291" width="5" height="4.2" fill="#eee"/><path d="M561.8,291 L561.8,289 Q563.3,286.8 564.8,289 L564.8,291" fill="none" stroke="#eee" stroke-width="0.9"/>
<text x="563.3" y="301.5" font-size="4" fill="#eee" text-anchor="middle" font-family="Liberation Sans" font-weight="bold">БЛОК</text>
<text x="611.2" y="267.8" font-size="10.3" fill="#f2f2f2" text-anchor="middle" font-family="Liberation Sans" font-weight="bold" textLength="42.8" lengthAdjust="spacingAndGlyphs">ОММЕТР</text>
<text x="614" y="278" font-size="4.3" fill="#e8e8e8" text-anchor="middle" font-family="Liberation Sans" font-weight="bold">(ИЗМЕРИТЕЛЬ СОПРОТИВЛЕНИЯ</text>
<text x="614" y="283.7" font-size="4.3" fill="#e8e8e8" text-anchor="middle" font-family="Liberation Sans" font-weight="bold">ЗАЗЕМЛЕНИЯ)</text>
<clipPath id="sel2"><circle cx="699.8" cy="262" r="39.6"/></clipPath>
<g clip-path="url(#sel2)">
<rect x="655" y="220" width="90" height="54.6" fill="#d94e66"/>
<rect x="655" y="274.6" width="90" height="10.7" fill="#3a9e3e"/>
<rect x="655" y="285.3" width="90" height="24.7" fill="#f1bd3d"/>
<path d="M655,248.4 L745,248.4 M655,261.4 L745,261.4" stroke="#b03a50" stroke-width="0.7"/>
</g>
<text x="672.5" y="243.5" font-size="4.6" fill="#3a1a20" font-family="Liberation Sans" font-weight="bold">2000Ω</text>
<text x="668.5" y="256.0" font-size="4.6" fill="#3a1a20" font-family="Liberation Sans" font-weight="bold">200Ω</text>
<text x="670.0" y="269.5" font-size="4.6" fill="#3a1a20" font-family="Liberation Sans" font-weight="bold">20Ω</text>
<text x="665.0" y="281.0" font-size="3.4" fill="#3a1a20" font-family="Liberation Sans" font-weight="bold">НАПР ЗЕМ</text>
<text x="677.0" y="294.5" font-size="4.6" fill="#3a1a20" font-family="Liberation Sans" font-weight="bold">ВЫКЛ</text>
<circle cx="720" cy="261.8" r="35.8" fill="#4a6bbd"/>
<circle cx="719.8" cy="261.6" r="32.3" fill="#1c1c1e"/>
<circle cx="719.6" cy="261.6" r="30.3" fill="#434345"/>
<path d="M690.5,255.5 L748.5,255.5 Q750,262 748,270 Q735,266 718,262.5 Q703,259.5 690.5,260 Z" fill="#3a3a3c"/>
<path d="M691,256 L748,256" fill="none" stroke="#505052" stroke-width="0.7"/>
<path d="M691,260.2 Q722,262 746,276.5" fill="none" stroke="#262628" stroke-width="1.2"/>
<path d="M712,264.5 Q732,269 744,279" fill="none" stroke="#6a6a6c" stroke-width="0.8"/></g>
<g transform="translate(-212.5,864.9)"><path d="M505.5,127.5 L757.5,127 Q777.5,127 778,147 L781.5,301 Q781.8,321 761.5,321.2 L502.5,321.2 Q482.5,321.2 482.8,301 L485.5,147.5 Q485.8,127.5 505.5,127.5 Z" fill="#4864b0"/>
<path d="M508,133.5 L755.5,134 Q769.5,134 769.8,148 L773.3,296 Q773.5,310 759.5,310.3 L505.5,310.6 Q491.5,310.6 491.8,296.6 L494,147.5 Q494.2,133.5 508,133.5 Z" fill="#4a4a4b"/>
<path d="M506,143 L506,136 L607,136 L607,140 M535,136 L535,139 M571,136 L571,139 M608,158.8 L672,158.8 L672,151" fill="none" stroke="#a88457" stroke-width="1"/>
<polygon points="506.0,140.3 511.8,150.3 500.2,150.3" fill="#e9b53a"/>
<rect x="505.5" y="143.8" width="1" height="4" fill="#5a3d10"/>
<polygon points="672.5,140.0 678.3,150.0 666.7,150.0" fill="#e9b53a"/>
<rect x="672.0" y="143.5" width="1" height="4" fill="#5a3d10"/>
<text x="505.5" y="155.5" font-size="3.6" fill="#eee" text-anchor="middle" font-family="Liberation Sans" font-weight="bold">К ЗЕМЛЕ</text>
<rect x="514.0" y="138.8" width="21.2" height="19" rx="9.5" fill="#4c9a47"/>
<text x="519.0" y="151" font-size="7" fill="#2f6a2a" font-family="Liberation Sans" font-weight="bold">E</text>
<rect x="549.5" y="138.8" width="21.7" height="19" rx="9.5" fill="#ea8a3c"/>
<text x="554.5" y="151" font-size="7" fill="#8a4a18" font-family="Liberation Sans" font-weight="bold">P</text>
<rect x="584.8" y="138.8" width="21.2" height="19" rx="9.5" fill="#e45468"/>
<text x="589.8" y="151" font-size="7" fill="#8a2838" font-family="Liberation Sans" font-weight="bold">C</text>
<rect x="640" y="138.3" width="25" height="19" rx="9.5" fill="#b9b9bb"/>
<text x="650" y="151" font-size="7.5" fill="#55557a" font-family="Liberation Sans" font-weight="bold">V</text>
<circle cx="535.2" cy="148.5" r="9.6" fill="#3b64b6"/>
<circle cx="535.2" cy="148.5" r="7.2" fill="#27488f"/>
<circle cx="535.2" cy="148.5" r="4.8" fill="#1b2f5c" stroke="#8fb0e8" stroke-width="0.9"/>
<circle cx="535.2" cy="148.5" r="1.8" fill="#102040"/>
<circle cx="571.2" cy="148.5" r="9.6" fill="#3b64b6"/>
<circle cx="571.2" cy="148.5" r="7.2" fill="#27488f"/>
<circle cx="571.2" cy="148.5" r="4.8" fill="#1b2f5c" stroke="#8fb0e8" stroke-width="0.9"/>
<circle cx="571.2" cy="148.5" r="1.8" fill="#102040"/>
<circle cx="606.0" cy="148.3" r="9.6" fill="#3b64b6"/>
<circle cx="606.0" cy="148.3" r="7.2" fill="#27488f"/>
<circle cx="606.0" cy="148.3" r="4.8" fill="#1b2f5c" stroke="#8fb0e8" stroke-width="0.9"/>
<circle cx="606.0" cy="148.3" r="1.8" fill="#102040"/>
<circle cx="640.3" cy="147.8" r="9.6" fill="#3b64b6"/>
<circle cx="640.3" cy="147.8" r="7.2" fill="#27488f"/>
<circle cx="640.3" cy="147.8" r="4.8" fill="#1b2f5c" stroke="#8fb0e8" stroke-width="0.9"/>
<circle cx="640.3" cy="147.8" r="1.8" fill="#102040"/>
<text x="624" y="141.5" font-size="3.4" fill="#e8e8e8" text-anchor="middle" font-family="Liberation Sans" font-weight="bold">MAX</text>
<text x="624" y="145.3" font-size="3.4" fill="#e8e8e8" text-anchor="middle" font-family="Liberation Sans" font-weight="bold">1000V</text>
<text x="624" y="149.1" font-size="3.4" fill="#e8e8e8" text-anchor="middle" font-family="Liberation Sans" font-weight="bold">AC</text>
<text x="624" y="152.9" font-size="3.4" fill="#e8e8e8" text-anchor="middle" font-family="Liberation Sans" font-weight="bold">НАПР.</text>
<text x="624" y="156.7" font-size="3.4" fill="#e8e8e8" text-anchor="middle" font-family="Liberation Sans" font-weight="bold">ЗЕМЛИ</text>
<g fill="#f0f0f0"><polygon points="687.8,149.8 687.8,142.3 690.2,142.3 692.2,146.6 694.2,142.3 696.6,142.3 696.6,149.8 694.8,149.8 694.8,145.6 692.8,149.4 691.6,149.4 689.6,145.6 689.6,149.8"/><rect x="697.8" y="142.3" width="4.8" height="1.7"/><rect x="698.6" y="145.2" width="3.6" height="1.5"/><rect x="697.8" y="148.1" width="4.8" height="1.7"/><rect x="703.9" y="142.3" width="4.9" height="1.7"/><rect x="703.9" y="142.3" width="1.8" height="7.5"/><rect x="706.3" y="148.3" width="2.5" height="1.5"/><rect x="710" y="142.3" width="4.6" height="1.7"/><rect x="710.7" y="145.2" width="3.5" height="1.5"/><rect x="710" y="148.1" width="4.6" height="1.7"/><rect x="715.8" y="142.3" width="7.4" height="7.5" rx="3.2"/><rect x="724.4" y="142.3" width="1.9" height="7.5"/><rect x="729.3" y="142.3" width="1.9" height="7.5"/><rect x="724.4" y="145.3" width="6.8" height="1.7"/></g>
<rect x="717.6" y="144" width="3.8" height="4.1" rx="1.6" fill="#4a4a4b"/>
<ellipse cx="744.8" cy="145.7" rx="11.8" ry="4.2" fill="#e8e8e8"/>
<text x="744.8" y="147.9" font-size="5.6" fill="#444" text-anchor="middle" font-family="Liberation Sans" font-weight="bold">13020</text>
<rect x="523.2" y="161.8" width="137" height="85.1" rx="5" fill="#4066bb"/>
<rect x="527" y="164.9" width="129.6" height="78.6" rx="2.5" fill="#9fa792"/>
<g fill="#23251e"><polygon points="557.61,173.40 556.33,188.20 551.74,185.80 552.55,176.40"/><polygon points="556.27,189.00 554.99,203.80 550.45,200.80 551.26,191.40"/></g>
<g fill="#23251e"><polygon points="582.81,173.40 581.53,188.20 576.94,185.80 577.75,176.40"/><polygon points="581.47,189.00 580.19,203.80 575.65,200.80 576.46,191.40"/><polygon points="563.31,173.40 567.85,176.40 567.04,185.80 562.03,188.20"/><polygon points="564.80,188.60 567.41,186.20 576.51,186.20 578.70,188.60 576.09,191.00 566.99,191.00"/></g>
<g fill="#23251e"><polygon points="594.10,171.20 609.20,171.20 605.79,176.00 596.69,176.00"/><polygon points="611.21,173.40 609.93,188.20 605.34,185.80 606.15,176.40"/><polygon points="609.87,189.00 608.59,203.80 604.05,200.80 604.86,191.40"/><polygon points="594.51,201.20 603.61,201.20 606.20,206.00 591.10,206.00"/><polygon points="591.71,173.40 596.25,176.40 595.44,185.80 590.43,188.20"/><polygon points="593.20,188.60 595.81,186.20 604.91,186.20 607.10,188.60 604.49,191.00 595.39,191.00"/></g>
<g fill="#23251e"><polygon points="620.50,171.20 635.60,171.20 632.19,176.00 623.09,176.00"/><polygon points="637.61,173.40 636.33,188.20 631.74,185.80 632.55,176.40"/><polygon points="636.27,189.00 634.99,203.80 630.45,200.80 631.26,191.40"/><polygon points="620.91,201.20 630.01,201.20 632.60,206.00 617.50,206.00"/><polygon points="616.77,189.00 621.36,191.40 620.55,200.80 615.49,203.80"/><polygon points="618.11,173.40 622.65,176.40 621.84,185.80 616.83,188.20"/></g>
<rect x="582.2" y="201.7" width="4.1" height="4.1" rx="0.6" fill="#23251e"/>
<text x="641.2" y="205.3" font-size="11.5" fill="#23251e" font-family="Liberation Sans" font-weight="bold">Ω</text>
<g fill="#23251e"><polygon points="564.90,215.90 572.40,215.90 570.26,218.40 566.56,218.40"/><polygon points="573.13,216.70 572.47,223.45 570.09,222.20 570.44,218.60"/><polygon points="572.43,223.85 571.78,230.60 569.46,228.70 569.81,225.10"/><polygon points="565.54,228.90 569.24,228.90 570.90,231.40 563.40,231.40"/><polygon points="563.33,223.85 565.71,225.10 565.36,228.70 562.68,230.60"/><polygon points="564.03,216.70 566.34,218.60 565.99,222.20 563.37,223.45"/></g>
<g fill="#23251e"><polygon points="577.30,215.90 584.80,215.90 582.66,218.40 578.96,218.40"/><polygon points="585.53,216.70 584.87,223.45 582.49,222.20 582.84,218.60"/><polygon points="584.83,223.85 584.18,230.60 581.86,228.70 582.21,225.10"/><polygon points="577.94,228.90 581.64,228.90 583.30,231.40 575.80,231.40"/><polygon points="575.73,223.85 578.11,225.10 577.76,228.70 575.08,230.60"/><polygon points="576.43,216.70 578.74,218.60 578.39,222.20 575.77,223.45"/></g>
<g fill="#23251e"><polygon points="594.00,215.90 601.50,215.90 599.36,218.40 595.66,218.40"/><polygon points="602.23,216.70 601.57,223.45 599.19,222.20 599.54,218.60"/><polygon points="601.53,223.85 600.88,230.60 598.56,228.70 598.91,225.10"/><polygon points="594.64,228.90 598.34,228.90 600.00,231.40 592.50,231.40"/><polygon points="593.90,223.65 595.27,222.40 598.97,222.40 600.10,223.65 598.73,224.90 595.03,224.90"/></g>
<g fill="#23251e"><polygon points="615.43,216.70 614.77,223.45 612.39,222.20 612.74,218.60"/><polygon points="614.73,223.85 614.08,230.60 611.76,228.70 612.11,225.10"/></g>
<rect x="587" y="219.0" width="2.2" height="2" fill="#23251e"/><rect x="585.8" y="227.6" width="2.2" height="2" fill="#23251e"/>
<text x="566.5" y="240.8" font-size="7.2" fill="#23251e" font-family="Liberation Sans" font-weight="bold" textLength="13.6" lengthAdjust="spacingAndGlyphs">MIN</text>
<text x="596.2" y="240.8" font-size="7.2" fill="#23251e" font-family="Liberation Sans" font-weight="bold" textLength="14.3" lengthAdjust="spacingAndGlyphs">SEC</text>
<path d="M534.2,233.6 L545,233.6 Q548,233.6 548,237.1 Q548,240.6 545,240.6 L534.2,240.6" fill="none" stroke="#23251e" stroke-width="1.1"/><circle cx="543.5" cy="237.1" r="1.4" fill="#23251e"/>
<circle cx="645.5" cy="232.5" r="2.6" fill="none" stroke="#23251e" stroke-width="1.3"/><rect x="644.3" y="235.3" width="2.4" height="4.2" fill="#23251e"/><path d="M642.2,228.5 L643.4,229.8 M648.8,228.5 L647.6,229.8 M645.5,227.3 L645.5,228.8" stroke="#23251e" stroke-width="0.8"/>
<circle cx="689.3" cy="173.4" r="10.2" fill="#3a3a3c"/>
<circle cx="689.3" cy="173.4" r="9.4" fill="#c6c8ea"/>
<circle cx="689.5" cy="209.2" r="10.2" fill="#3a3a3c"/>
<circle cx="689.5" cy="209.2" r="9.4" fill="#c6c8ea"/>
<circle cx="746.7" cy="173.3" r="10.2" fill="#3a3a3c"/>
<circle cx="746.7" cy="173.3" r="9.4" fill="#c6c8ea"/>
<circle cx="747.3" cy="209.2" r="10.2" fill="#3a3a3c"/>
<circle cx="747.3" cy="209.2" r="9.4" fill="#c6c8ea"/>
<polygon points="689.3,169.3 693.6,176.3 685,176.3" fill="#333"/>
<polygon points="689.5,213.3 693.8,206.3 685.2,206.3" fill="#333"/>
<circle cx="746.7" cy="172.6" r="2.9" fill="none" stroke="#55558f" stroke-width="1.1"/><rect x="745.6" y="175.4" width="2.2" height="2.8" fill="#55558f"/><path d="M742.6,168.2 L743.8,169.4 M750.8,168.2 L749.6,169.4 M746.7,166.6 L746.7,168.3 M741.8,171.4 L743.2,171.6 M751.6,171.4 L750.2,171.6" stroke="#55558f" stroke-width="0.8"/>
<circle cx="747.3" cy="209.2" r="5.5" fill="none" stroke="#5a5aa0" stroke-width="1.1"/><path d="M747.3,205.5 L747.3,209.4 L750,210.5" fill="none" stroke="#5a5aa0" stroke-width="1"/>
<text x="748" y="189.3" font-size="4.2" fill="#eee" text-anchor="middle" font-family="Liberation Sans" font-weight="bold">ПОДСВЕТКА</text>
<text x="748.5" y="224.6" font-size="4.2" fill="#eee" text-anchor="middle" font-family="Liberation Sans" font-weight="bold">ТАЙМЕР</text>
<circle cx="716.9" cy="191.5" r="2" fill="#8a8a7a"/>
<circle cx="535.8" cy="280.2" r="23" fill="#4565b6"/>
<circle cx="535.8" cy="280.2" r="19.8" fill="#c71c3b"/>
<circle cx="535.8" cy="280.2" r="17.5" fill="none" stroke="#b01232" stroke-width="2.2" stroke-dasharray="1.6 1.6"/>
<text x="531" y="256" font-size="4.2" fill="#eee" text-anchor="middle" font-family="Liberation Sans" font-weight="bold">ТЕСТ</text>
<path d="M541,254.5 Q557,257 563,271" fill="none" stroke="#f0f0f0" stroke-width="1.2"/><polygon points="560.5,271 565.5,270.5 563.5,276" fill="#f0f0f0"/>
<rect x="560.8" y="291" width="5" height="4.2" fill="#eee"/><path d="M561.8,291 L561.8,289 Q563.3,286.8 564.8,289 L564.8,291" fill="none" stroke="#eee" stroke-width="0.9"/>
<text x="563.3" y="301.5" font-size="4" fill="#eee" text-anchor="middle" font-family="Liberation Sans" font-weight="bold">БЛОК</text>
<text x="611.2" y="267.8" font-size="10.3" fill="#f2f2f2" text-anchor="middle" font-family="Liberation Sans" font-weight="bold" textLength="42.8" lengthAdjust="spacingAndGlyphs">ОММЕТР</text>
<text x="614" y="278" font-size="4.3" fill="#e8e8e8" text-anchor="middle" font-family="Liberation Sans" font-weight="bold">(ИЗМЕРИТЕЛЬ СОПРОТИВЛЕНИЯ</text>
<text x="614" y="283.7" font-size="4.3" fill="#e8e8e8" text-anchor="middle" font-family="Liberation Sans" font-weight="bold">ЗАЗЕМЛЕНИЯ)</text>
<clipPath id="sel3"><circle cx="699.8" cy="262" r="39.6"/></clipPath>
<g clip-path="url(#sel3)">
<rect x="655" y="220" width="90" height="54.6" fill="#d94e66"/>
<rect x="655" y="274.6" width="90" height="10.7" fill="#3a9e3e"/>
<rect x="655" y="285.3" width="90" height="24.7" fill="#f1bd3d"/>
<path d="M655,248.4 L745,248.4 M655,261.4 L745,261.4" stroke="#b03a50" stroke-width="0.7"/>
</g>
<text x="672.5" y="243.5" font-size="4.6" fill="#3a1a20" font-family="Liberation Sans" font-weight="bold">2000Ω</text>
<text x="668.5" y="256.0" font-size="4.6" fill="#3a1a20" font-family="Liberation Sans" font-weight="bold">200Ω</text>
<text x="670.0" y="269.5" font-size="4.6" fill="#3a1a20" font-family="Liberation Sans" font-weight="bold">20Ω</text>
<text x="665.0" y="281.0" font-size="3.4" fill="#3a1a20" font-family="Liberation Sans" font-weight="bold">НАПР ЗЕМ</text>
<text x="677.0" y="294.5" font-size="4.6" fill="#3a1a20" font-family="Liberation Sans" font-weight="bold">ВЫКЛ</text>
<circle cx="720" cy="261.8" r="35.8" fill="#4a6bbd"/>
<circle cx="719.8" cy="261.6" r="32.3" fill="#1c1c1e"/>
<circle cx="719.6" cy="261.6" r="30.3" fill="#434345"/>
<path d="M690.5,255.5 L748.5,255.5 Q750,262 748,270 Q735,266 718,262.5 Q703,259.5 690.5,260 Z" fill="#3a3a3c"/>
<path d="M691,256 L748,256" fill="none" stroke="#505052" stroke-width="0.7"/>
<path d="M691,260.2 Q722,262 746,276.5" fill="none" stroke="#262628" stroke-width="1.2"/>
<path d="M712,264.5 Q732,269 744,279" fill="none" stroke="#6a6a6c" stroke-width="0.8"/></g>
<path d="M375.8,119.5 Q385,103.2 402,103.2 L602.5,103.2 L602.5,148.3" fill="none" stroke="#8c2832" stroke-width="3.1" stroke-linejoin="miter"/>
<path d="M424.7,117 Q432,113.6 447,113.6 L638.8,113.6 L638.8,147.8" fill="none" stroke="#3f7638" stroke-width="3.1" stroke-linejoin="miter"/>
<path d="M157.1,552 L157.1,522.5 L336.5,522.5" fill="none" stroke="#3f7638" stroke-width="3.1" stroke-linejoin="miter"/>
<path d="M188.4,552 L188.4,484.2 L334.5,484.2" fill="none" stroke="#8c2832" stroke-width="3.1" stroke-linejoin="miter"/>
<path d="M223.7,552 L223.7,493.9 L334.5,493.9" fill="none" stroke="#8c2832" stroke-width="3.1" stroke-linejoin="miter"/>
<rect x="190" y="475.6" width="2.4" height="2.6" fill="#222"/>
<path d="M320.8,1013 L320.8,970.2 L611,970.2 Q619,970.3 623.5,976.5" fill="none" stroke="#3f7638" stroke-width="3.1" stroke-linejoin="miter"/>
<path d="M360.1,1013 L360.1,959.9 L643,959.9 Q661,960 665.5,979.5" fill="none" stroke="#d9792f" stroke-width="3.1" stroke-linejoin="miter"/>
<path d="M396.8,1013 L396.8,951 L693,951 Q721,951.5 727.3,980.5" fill="none" stroke="#8c2832" stroke-width="3.1" stroke-linejoin="miter"/>
<rect x="334.3" y="479.8" width="25.0" height="8.1" rx="1.5" fill="#f4f4f4" stroke="#6e6e6e" stroke-width="0.9"/><path d="M336.3,481.0 L336.3,486.7 M338.5,481.0 L338.5,486.7 M340.7,481.0 L340.7,486.7 M342.9,481.0 L342.9,486.7 M345.1,481.0 L345.1,486.7 M347.3,481.0 L347.3,486.7" stroke="#9a9a9a" stroke-width="0.8"/><path d="M350.3,480.8 L354.3,483.9 L350.3,486.9 M354.3,480.8 L357.8,483.9 L354.3,486.9" fill="none" stroke="#6e6e6e" stroke-width="0.8"/>
<rect x="334.3" y="493.3" width="25.0" height="8.2" rx="1.5" fill="#f4f4f4" stroke="#6e6e6e" stroke-width="0.9"/><path d="M336.3,494.5 L336.3,500.3 M338.5,494.5 L338.5,500.3 M340.7,494.5 L340.7,500.3 M342.9,494.5 L342.9,500.3 M345.1,494.5 L345.1,500.3 M347.3,494.5 L347.3,500.3" stroke="#9a9a9a" stroke-width="0.8"/><path d="M350.3,494.3 L354.3,497.4 L350.3,500.5 M354.3,494.3 L357.8,497.4 L354.3,500.5" fill="none" stroke="#6e6e6e" stroke-width="0.8"/>
<rect x="336.5" y="519.4" width="25.0" height="8.1" rx="1.5" fill="#f4f4f4" stroke="#6e6e6e" stroke-width="0.9"/><path d="M338.5,520.6 L338.5,526.3 M340.7,520.6 L340.7,526.3 M342.9,520.6 L342.9,526.3 M345.1,520.6 L345.1,526.3 M347.3,520.6 L347.3,526.3 M349.5,520.6 L349.5,526.3" stroke="#9a9a9a" stroke-width="0.8"/><path d="M352.5,520.4 L356.5,523.5 L352.5,526.5 M356.5,520.4 L360.0,523.5 L356.5,526.5" fill="none" stroke="#6e6e6e" stroke-width="0.8"/>
<path d="M359.3,481.5 Q366,481 370,485 M359.3,486.5 Q365,486.5 369,489 M359.3,495 Q365,495 369,492 M359.3,500 Q366,500.5 370,497" fill="none" stroke="#6e6e6e" stroke-width="0.9"/>
<path d="M372,481.4 L386,484.6 Q389.7,485.5 389.7,489 L389.7,491.5 Q389.7,495 386,496 L372,499.8 Q368.5,500.5 368.5,496 L368.5,485.5 Q368.5,480.8 372,481.4 Z" fill="#fff" stroke="#555" stroke-width="1"/>
<circle cx="377.5" cy="490.6" r="4.8" fill="none" stroke="#666" stroke-width="0.9"/><path d="M375,490.8 L377,492.8 L380,488.5" fill="none" stroke="#666" stroke-width="0.8"/>
<path d="M389.7,487.9 L434.7,487.9 L450.5,495.6 M389.7,492.2 L432.6,492.2 L447.6,502" fill="none" stroke="#6e6e6e" stroke-width="0.9"/>
<path d="M361.5,521.8 Q372,522.5 382.1,524.6 L397,534.8 M361.5,526.2 Q371,526.6 381,528.6 L393.8,540.2" fill="none" stroke="#6e6e6e" stroke-width="0.9"/>
<path d="M450.2,495.3 L506.0,521.4 Q512.0,540.0 495.8,550.2 L448.4,503.7 Q447.8,500.5 450.2,495.3 Z" fill="#fff" stroke="#6e6e6e" stroke-width="1"/>
<path d="M462,502 Q466,510 459.5,517" fill="none" stroke="#999" stroke-width="0.8"/>
<path d="M397.2,534.8 L449.8,570.5 Q455.0,587.0 437.2,594.5 L393.0,541.5 Q393.6,539.1 397.2,534.8 Z" fill="#fff" stroke="#6e6e6e" stroke-width="1"/>
<path d="M410,541 Q414,550 406,556" fill="none" stroke="#999" stroke-width="0.8"/>
<path d="M506,539.1 L515.7,545.7 M504.9,541.9 L514.1,549.5" fill="none" stroke="#6e6e6e" stroke-width="0.9"/>
<path d="M446,586 L456,592.5 M443,590 L453.5,597" fill="none" stroke="#6e6e6e" stroke-width="0.9"/>
<path d="M515.7,545.1 L522.2,550.5 L528.2,551.6 L533.1,553.3 L540.7,562.5 L542.9,567.9 L546.7,567.9 L550.5,574.4 L549.4,576.6 L545,583.1 L540.7,581.5 L534.2,577.7 L525.5,569 L519,558.1 L514.1,549.5 Z" fill="#f6f6f6" stroke="#5a5a5a" stroke-width="1"/>
<path d="M522.2,550.5 L517.5,556 M528.2,551.6 L521.5,561 M540.7,562.5 L531,573 M546.7,567.9 L538.5,579.5" fill="none" stroke="#6a6a6a" stroke-width="0.9"/>
<path d="M533,557 Q537,559 538.5,565 L534.5,566 Z" fill="#3a3a3a"/><circle cx="522.5" cy="556" r="1.3" fill="none" stroke="#555" stroke-width="0.8"/>
<path d="M454.9,590.2 L458.6,592.1 L462,594 L474.4,607 L477.5,614 L480.9,623.7 L478,628 L472.6,632.1 L470,630 L467,623.7 L460,608 L456.7,597.7 Z" fill="#f6f6f6" stroke="#5a5a5a" stroke-width="1"/>
<path d="M462,594 L457.5,600 M466.5,598 L460,607 M477,612 L466,620 M480.2,620 L470,627" fill="none" stroke="#6a6a6a" stroke-width="0.9"/>
<path d="M471,603 Q474,606 474.5,612 L470.5,612.5 Z" fill="#3a3a3a"/><circle cx="461" cy="600" r="1.2" fill="none" stroke="#555" stroke-width="0.8"/>
<text x="0.0" y="171.1" font-size="43.0" fill="#666666" textLength="241.10" lengthAdjust="spacing" font-family="Liberation Sans" stroke="#666666" stroke-width="1.40" transform="translate(938.40,0) scale(1.1000,1)">Измерение</text>
<text x="0.0" y="230.2" font-size="43.0" fill="#666666" textLength="268.27" lengthAdjust="spacing" font-family="Liberation Sans" stroke="#666666" stroke-width="1.40" transform="translate(923.50,0) scale(1.1000,1)">напряжения</text>
<text x="0.0" y="290.5" font-size="43.0" fill="#666666" textLength="257.87" lengthAdjust="spacing" font-family="Liberation Sans" stroke="#666666" stroke-width="1.40" transform="translate(930.50,0) scale(1.1000,1)">заземления</text>
<text x="0.0" y="591.9" font-size="47.5" fill="#666666" textLength="28.72" lengthAdjust="spacingAndGlyphs" font-family="Liberation Sans" stroke="#666666" stroke-width="1.40" transform="translate(1058.90,0) scale(1.0000,1)">2</text>
<text x="0.0" y="591.9" font-size="43.0" fill="#666666" textLength="25.84" lengthAdjust="spacing" font-family="Liberation Sans" stroke="#666666" stroke-width="1.40" transform="translate(1116.30,0) scale(1.1000,1)">х</text>
<text x="0.0" y="651.0" font-size="43.0" fill="#666666" textLength="236.90" lengthAdjust="spacing" font-family="Liberation Sans" stroke="#666666" stroke-width="1.40" transform="translate(971.10,0) scale(1.1000,1)">проводной</text>
<text x="0.0" y="710.8" font-size="43.0" fill="#666666" textLength="133.74" lengthAdjust="spacing" font-family="Liberation Sans" stroke="#666666" stroke-width="1.40" transform="translate(1026.90,0) scale(1.1000,1)">метод</text>
<text x="0.0" y="1024.4" font-size="47.5" fill="#666666" textLength="25.88" lengthAdjust="spacingAndGlyphs" font-family="Liberation Sans" stroke="#666666" stroke-width="1.40" transform="translate(1061.00,0) scale(1.0000,1)">3</text>
<text x="0.0" y="1024.2" font-size="43.0" fill="#666666" textLength="25.84" lengthAdjust="spacing" font-family="Liberation Sans" stroke="#666666" stroke-width="1.40" transform="translate(1116.30,0) scale(1.1000,1)">х</text>
<text x="0.0" y="1083.0" font-size="43.0" fill="#666666" textLength="236.90" lengthAdjust="spacing" font-family="Liberation Sans" stroke="#666666" stroke-width="1.40" transform="translate(971.10,0) scale(1.1000,1)">проводной</text>
<text x="0.0" y="1142.8" font-size="43.0" fill="#666666" textLength="133.74" lengthAdjust="spacing" font-family="Liberation Sans" stroke="#666666" stroke-width="1.40" transform="translate(1026.90,0) scale(1.1000,1)">метод</text>
<text x="0.0" y="540.8" font-size="19.0" fill="#2b2b2b" textLength="107.05" lengthAdjust="spacingAndGlyphs" font-family="Liberation Sans"  transform="translate(553.40,0) scale(1.0000,1)">Вторичная</text>
<text x="0.0" y="566.6" font-size="19.0" fill="#2b2b2b" textLength="82.43" lengthAdjust="spacingAndGlyphs" font-family="Liberation Sans"  transform="translate(565.20,0) scale(1.0000,1)">обмотка</text>
<text x="0.0" y="542.4" font-size="19.0" fill="#2b2b2b" textLength="108.59" lengthAdjust="spacingAndGlyphs" font-family="Liberation Sans"  transform="translate(709.00,0) scale(1.0000,1)">Первичная</text>
<text x="0.0" y="567.4" font-size="19.0" fill="#2b2b2b" textLength="83.96" lengthAdjust="spacingAndGlyphs" font-family="Liberation Sans"  transform="translate(720.90,0) scale(1.0000,1)">обмотка</text>
<text x="0.0" y="611.8" font-size="19.0" fill="#2b2b2b" textLength="247.26" lengthAdjust="spacingAndGlyphs" font-family="Liberation Sans"  transform="translate(573.40,0) scale(1.0000,1)">Питающий трансформатор</text>
<text x="0.0" y="655.9" font-size="19.0" fill="#2b2b2b" textLength="107.19" lengthAdjust="spacingAndGlyphs" font-family="Liberation Sans"  transform="translate(625.90,0) scale(1.0000,1)">Убедитесь,</text>
<text x="0.0" y="681.2" font-size="19.0" fill="#2b2b2b" textLength="121.06" lengthAdjust="spacingAndGlyphs" font-family="Liberation Sans"  transform="translate(626.00,0) scale(1.0000,1)">что обмотка</text>
<text x="0.0" y="706.7" font-size="19.0" fill="#2b2b2b" textLength="165.50" lengthAdjust="spacingAndGlyphs" font-family="Liberation Sans"  transform="translate(627.00,0) scale(1.0000,1)">трансформатора</text>
<text x="0.0" y="733.2" font-size="19.0" fill="#2b2b2b" textLength="104.51" lengthAdjust="spacingAndGlyphs" font-family="Liberation Sans"  transform="translate(626.00,0) scale(1.0000,1)">заземлена</text>
<text x="0.0" y="739.7" font-size="19.0" fill="#2b2b2b" textLength="138.62" lengthAdjust="spacingAndGlyphs" font-family="Liberation Sans"  transform="translate(134.10,0) scale(1.0000,1)">Проверяемый</text>
<text x="0.0" y="765.7" font-size="19.0" fill="#2b2b2b" textLength="81.97" lengthAdjust="spacingAndGlyphs" font-family="Liberation Sans"  transform="translate(135.10,0) scale(1.0000,1)">элемент</text>
<text x="0.0" y="791.3" font-size="19.0" fill="#2b2b2b" textLength="117.54" lengthAdjust="spacingAndGlyphs" font-family="Liberation Sans"  transform="translate(135.10,0) scale(1.0000,1)">заземления</text>
<text x="0.0" y="791.8" font-size="19.0" fill="#2b2b2b" textLength="581.02" lengthAdjust="spacingAndGlyphs" font-family="Liberation Sans"  transform="translate(266.80,0) scale(1.0000,1)">Питающий трансформатор с заземленной вторичной обмоткой</text>
<text x="0.0" y="727.9" font-size="18.5" fill="#2b2b2b" textLength="49.20" lengthAdjust="spacingAndGlyphs" font-family="Liberation Sans"  transform="translate(449.60,0) scale(1.0000,1)">Rизм</text>
<text x="0.0" y="727.9" font-size="18.5" fill="#2b2b2b" textLength="41.47" lengthAdjust="spacingAndGlyphs" font-family="Liberation Sans"  transform="translate(530.60,0) scale(1.0000,1)">Rзаз</text>
<text x="0.0" y="514.0" font-size="22.0" fill="#222" textLength="15.34" lengthAdjust="spacingAndGlyphs" font-family="Liberation Sans"  transform="translate(155.10,0) scale(1.0000,1)">E</text>
<text x="0.0" y="514.2" font-size="22.0" fill="#222" textLength="18.74" lengthAdjust="spacingAndGlyphs" font-family="Liberation Sans"  transform="translate(200.50,0) scale(1.0000,1)">C</text>
<text x="0.0" y="144.2" font-size="29.5" fill="#151515" textLength="22.46" lengthAdjust="spacingAndGlyphs" font-family="Liberation Sans" stroke="#151515" stroke-width="0.40" transform="translate(330.00,0) scale(1.0000,1)">C</text>
<text x="0.0" y="144.4" font-size="29.5" fill="#151515" textLength="19.72" lengthAdjust="spacingAndGlyphs" font-family="Liberation Sans" stroke="#151515" stroke-width="0.40" transform="translate(437.20,0) scale(1.0000,1)">E</text>
<text x="0.0" y="995.7" font-size="23.0" fill="#151515" textLength="16.52" lengthAdjust="spacingAndGlyphs" font-family="Liberation Sans" stroke="#151515" stroke-width="0.30" transform="translate(596.80,0) scale(1.0000,1)">E</text>
<text x="0.0" y="995.9" font-size="23.0" fill="#151515" textLength="16.68" lengthAdjust="spacingAndGlyphs" font-family="Liberation Sans" stroke="#151515" stroke-width="0.30" transform="translate(683.40,0) scale(1.0000,1)">P</text>
<text x="0.0" y="996.3" font-size="23.0" fill="#151515" textLength="17.21" lengthAdjust="spacingAndGlyphs" font-family="Liberation Sans" stroke="#151515" stroke-width="0.30" transform="translate(745.80,0) scale(1.0000,1)">C</text>
<text x="0.0" y="1145.8" font-size="20.5" fill="#2b2b2b" textLength="29.42" lengthAdjust="spacingAndGlyphs" font-family="Liberation Sans"  transform="translate(652.00,0) scale(1.0000,1)">5м</text>
<text x="0.0" y="1145.8" font-size="20.5" fill="#2b2b2b" textLength="28.83" lengthAdjust="spacingAndGlyphs" font-family="Liberation Sans"  transform="translate(704.20,0) scale(1.0000,1)">5м</text>
<rect x="1090.2" y="576.6" width="21.7" height="4.6" fill="#666"/><rect x="1090.2" y="1008.9" width="21.7" height="4.6" fill="#666"/>
</svg>
</body></html>
